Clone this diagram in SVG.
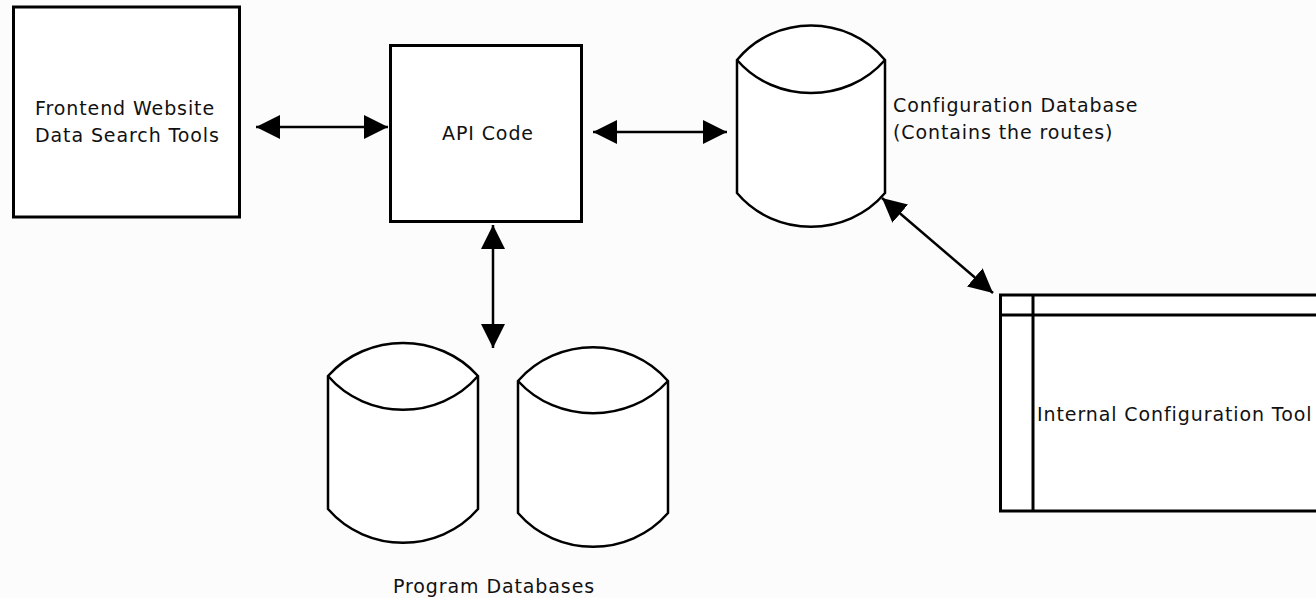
<svg xmlns="http://www.w3.org/2000/svg" width="1316" height="598" viewBox="0 0 1316 598">
<style>
.box{fill:#ffffff;stroke:#000;stroke-width:3}
.cyl{fill:#ffffff;stroke:#000;stroke-width:2.5;stroke-linejoin:miter}
.cl{fill:none;stroke:#000;stroke-width:2.5}
.t{font-family:"DejaVu Sans","Verdana",sans-serif;font-size:19px;letter-spacing:0.9px;fill:#111}
.c{fill:none;stroke:#000;stroke-width:2.5}
</style>
<defs>
<marker id="ah" markerUnits="userSpaceOnUse" markerWidth="24" markerHeight="24" viewBox="0 0 22 22" refX="22" refY="11" orient="auto-start-reverse">
<path d="M0,0 L22,11 L0,22 Z" fill="#000"/>
</marker>
</defs>
<rect x="0" y="0" width="1316" height="598" fill="#fcfcfc"/>
<g id="frontend">
<rect class="box" x="13.5" y="7" width="226" height="210"/>
<text class="t" x="35" y="115">Frontend Website</text>
<text class="t" x="35" y="142">Data Search Tools</text>
</g>
<g id="api">
<rect class="box" x="390.5" y="45.5" width="191" height="176"/>
<text class="t" x="442" y="140">API Code</text>
</g>
<g id="configdb">
<path class="cyl" d="M737,60 C775,14 847,14 885,60 L885,193 C847,238 775,238 737,193 Z"/>
<path class="cl" d="M737,60 C775,104 847,104 885,60"/>
<text class="t" x="893" y="112">Configuration Database</text>
<text class="t" x="893" y="139">(Contains the routes)</text>
</g>
<g id="configtool">
<rect class="box" x="1000.5" y="295" width="330" height="216"/>
<line class="cl" x1="1033" y1="295" x2="1033" y2="511" style="stroke-width:3"/>
<line class="cl" x1="1000" y1="315" x2="1320" y2="315" style="stroke-width:3"/>
<text class="t" x="1037" y="421">Internal Configuration Tool</text>
</g>
<g id="programdbs">
<path class="cyl" d="M328,376 C367,332 439,332 478,376 L478,509 C439,554 367,554 328,509 Z"/>
<path class="cl" d="M328,376 C367,421 439,421 478,376"/>
<path class="cyl" d="M518,381 C557,336 629,336 668,381 L668,513 C629,558 557,558 518,513 Z"/>
<path class="cl" d="M518,381 C557,424 629,424 668,381"/>
<text class="t" x="393" y="593">Program Databases</text>
</g>
<g id="connectors">
<line class="c" x1="256" y1="127" x2="388" y2="127" marker-start="url(#ah)" marker-end="url(#ah)"/>
<line class="c" x1="593" y1="132" x2="727" y2="132" marker-start="url(#ah)" marker-end="url(#ah)"/>
<line class="c" x1="882" y1="198" x2="993" y2="293" marker-start="url(#ah)" marker-end="url(#ah)"/>
<line class="c" x1="493" y1="225" x2="493" y2="348" marker-start="url(#ah)" marker-end="url(#ah)"/>
</g>
</svg>
